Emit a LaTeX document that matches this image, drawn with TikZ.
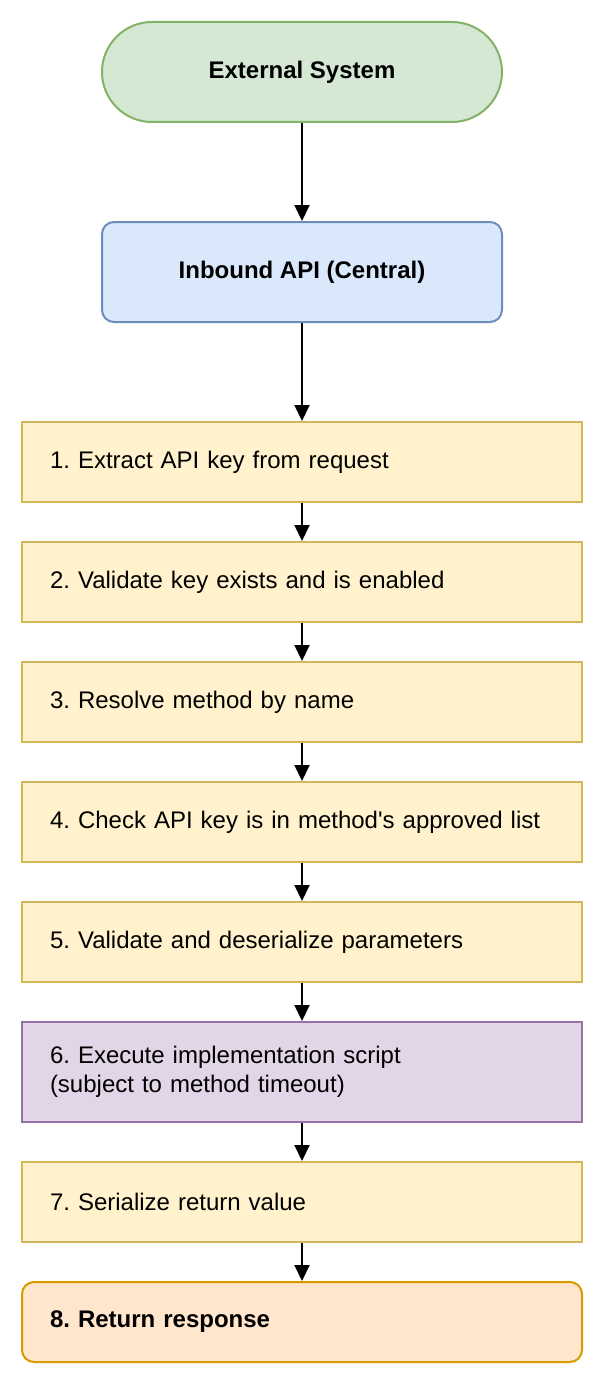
\documentclass[tikz,border=0pt]{standalone}
\usepackage{fontspec}
\setmainfont{Liberation Sans}
\usetikzlibrary{arrows.meta}
\frenchspacing
\definecolor{greenfill}{HTML}{D5E8D4}
\definecolor{greenline}{HTML}{82B366}
\definecolor{bluefill}{HTML}{DAE8FC}
\definecolor{blueline}{HTML}{6C8EBF}
\definecolor{yellowfill}{HTML}{FFF2CC}
\definecolor{yellowline}{HTML}{D6B656}
\definecolor{purplefill}{HTML}{E1D5E7}
\definecolor{purpleline}{HTML}{9673A6}
\definecolor{orangefill}{HTML}{FFE6CC}
\definecolor{orangeline}{HTML}{D79B00}
\tikzset{
  txt/.style={font=\fontsize{24}{29}\selectfont},
  topbox/.style={txt, draw, line width=2pt, minimum width=400pt, minimum height=100pt, align=center, font=\fontsize{24}{29}\selectfont\bfseries},
  box/.style={txt, draw, line width=2pt, minimum width=560pt, minimum height=80pt, text width=504pt, inner xsep=28pt, align=left},
  stepbox/.style={box, draw=yellowline, fill=yellowfill},
  flow/.style={-{Triangle[length=16pt,width=15pt]}, line width=2pt}
}
\begin{document}
\begin{tikzpicture}[x=1pt, y=-1pt]
    \useasboundingbox (0,0) rectangle (595,1375);
    \node[topbox, draw=greenline, fill=greenfill, rounded corners=50pt] (ext) at (302,72) {External System};
    \node[topbox, draw=blueline, fill=bluefill, rounded corners=12pt] (api) at (302,272) {Inbound API (Central)};
    \node[stepbox] (s1) at (302,462) {1. Extract API key from request};
    \node[stepbox] (s2) at (302,582) {2. Validate key exists and is enabled};
    \node[stepbox] (s3) at (302,702) {3. Resolve method by name};
    \node[stepbox] (s4) at (302,822) {4. Check API key is in method\textquotesingle s approved list};
    \node[stepbox] (s5) at (302,942) {5. Validate and deserialize parameters};
    \node[box, draw=purpleline, fill=purplefill, minimum height=100pt] (s6) at (302,1072) {6. Execute implementation script\\(subject to method timeout)};
    \node[stepbox] (s7) at (302,1202) {7. Serialize return value};
    \node[box, draw=orangeline, fill=orangefill, rounded corners=12pt, font=\fontsize{24}{29}\selectfont\bfseries] (s8) at (302,1322) {8. Return response};
%    arrows down the chain
    \draw[flow] (ext) -- (api);
    \draw[flow] (api) -- (s1);
    \draw[flow] (s1) -- (s2);
    \draw[flow] (s2) -- (s3);
    \draw[flow] (s3) -- (s4);
    \draw[flow] (s4) -- (s5);
    \draw[flow] (s5) -- (s6);
    \draw[flow] (s6) -- (s7);
    \draw[flow] (s7) -- (s8);
\end{tikzpicture}
\end{document}
